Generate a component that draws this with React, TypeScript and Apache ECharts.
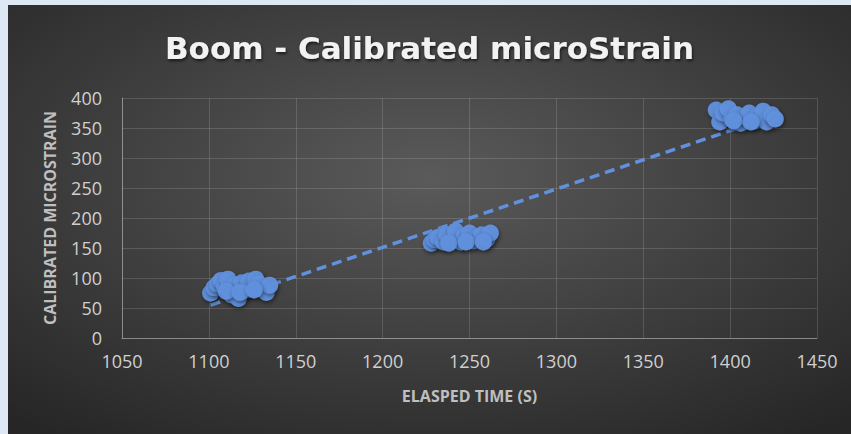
import React, { useEffect, useRef } from "react";
import * as echarts from "echarts";

// Elapsed time (s) and calibrated microstrain
const cluster1X = [1101, 1103, 1105, 1107, 1109, 1111, 1113, 1115, 1117, 1119, 1121, 1123, 1125, 1127, 1129, 1131, 1133, 1135, 1110, 1118, 1126];
const cluster1Y = [75, 84, 90, 96, 86, 98, 72, 88, 66, 92, 80, 95, 84, 98, 90, 82, 76, 88, 78, 76, 80];
const cluster2X = [1228, 1230, 1232, 1235, 1237, 1240, 1242, 1245, 1247, 1250, 1252, 1255, 1257, 1260, 1262, 1238, 1248, 1258];
const cluster2Y = [158, 164, 168, 160, 172, 165, 178, 160, 170, 175, 162, 168, 172, 165, 175, 158, 160, 160];
const cluster3X = [1392, 1394, 1396, 1399, 1401, 1404, 1406, 1409, 1411, 1414, 1416, 1419, 1421, 1424, 1426, 1402, 1412];
const cluster3Y = [380, 360, 375, 382, 365, 372, 358, 368, 375, 362, 370, 378, 360, 372, 365, 362, 360];

const titleText = "Boom - Calibrated microStrain";
const xAxisTitle = "ELASPED TIME (S)";
const yAxisTitle = "CALIBRATED MICROSTRAIN";

const xs = [...cluster1X, ...cluster2X, ...cluster3X];
const ys = [...cluster1Y, ...cluster2Y, ...cluster3Y];

function linearFit(x: number[], y: number[]) {
  const n = x.length;
  const mx = x.reduce((a, b) => a + b, 0) / n;
  const my = y.reduce((a, b) => a + b, 0) / n;
  let sxy = 0;
  let sxx = 0;
  for (let i = 0; i < n; i++) {
    sxy += (x[i] - mx) * (y[i] - my);
    sxx += (x[i] - mx) * (x[i] - mx);
  }
  const slope = sxy / sxx;
  return { slope, intercept: my - slope * mx };
}

export default function App() {
  const ref = useRef<HTMLDivElement>(null);

  useEffect(() => {
    document.body.style.margin = "0";
    if (!ref.current) return;
    const chart = echarts.init(ref.current, null, { renderer: "svg" });
    const fit = linearFit(xs, ys);
    const minX = Math.min(...xs);
    const maxX = Math.max(...xs);
    const trend = [
      [minX, fit.intercept + fit.slope * minX],
      [maxX, fit.intercept + fit.slope * maxX],
    ];
    const points = xs.map((x, i) => [x, ys[i]]);
    const blue = "#6191de";

    chart.setOption({
      animation: false,
      backgroundColor: new echarts.graphic.RadialGradient(0.5, 0.4, 0.75, [
        { offset: 0, color: "#5a5a5a" },
        { offset: 1, color: "#262626" },
      ]),
      title: {
        text: titleText,
        left: "center",
        top: 22,
        textStyle: {
          fontFamily: "DejaVu Sans",
          fontWeight: "bold",
          fontSize: 31,
          color: "#f2f2f2",
          textShadowColor: "rgba(0,0,0,0.6)",
          textShadowBlur: 3,
          textShadowOffsetX: 1,
          textShadowOffsetY: 2,
        },
      },
      grid: { left: 114, right: 34, top: 93, bottom: 96, containLabel: false },
      xAxis: {
        type: "value",
        min: 1050,
        max: 1450,
        interval: 50,
        name: xAxisTitle,
        nameLocation: "middle",
        nameGap: 50,
        nameTextStyle: { fontFamily: "Open Sans", fontWeight: "bold", fontSize: 16, color: "#bfbfbf" },
        axisLine: { show: true, lineStyle: { color: "rgba(255,255,255,0.32)", width: 1 } },
        axisTick: { show: false },
        axisLabel: {
          fontFamily: "Open Sans",
          fontSize: 18,
          color: "#d0d0d0",
          margin: 14,
          formatter: (v: number) => String(v),
        },
        splitLine: { show: true, lineStyle: { color: "rgba(255,255,255,0.14)", width: 1 } },
      },
      yAxis: {
        type: "value",
        min: 0,
        max: 400,
        interval: 50,
        name: yAxisTitle,
        nameLocation: "middle",
        nameGap: 64,
        nameRotate: 90,
        nameTextStyle: { fontFamily: "Open Sans", fontWeight: "bold", fontSize: 16, color: "#bfbfbf" },
        axisLine: { show: true, lineStyle: { color: "rgba(255,255,255,0.32)", width: 1 } },
        axisTick: { show: false },
        axisLabel: { fontFamily: "Open Sans", fontSize: 18, color: "#d0d0d0", margin: 20 },
        splitLine: { show: true, lineStyle: { color: "rgba(255,255,255,0.14)", width: 1 } },
      },
      series: [
        {
          type: "line",
          data: trend,
          symbol: "none",
          z: 1,
          lineStyle: { color: blue, width: 3.5, type: [10, 6] },
          silent: true,
        },
        {
          type: "scatter",
          data: points,
          symbol: "circle",
          symbolSize: 17,
          z: 2,
          itemStyle: {
            color: blue,
            opacity: 0.95,
            shadowColor: "rgba(0,0,0,0.5)",
            shadowBlur: 4,
            shadowOffsetX: 1,
            shadowOffsetY: 2,
          },
        },
      ],
    });
    return () => chart.dispose();
  }, []);

  return (
    <div style={{ position: "relative", width: 851, height: 434, background: "#dee8f4", overflow: "hidden" }}>
      <div ref={ref} style={{ position: "absolute", left: 8, top: 5, width: 843, height: 429 }} />
    </div>
  );
}
